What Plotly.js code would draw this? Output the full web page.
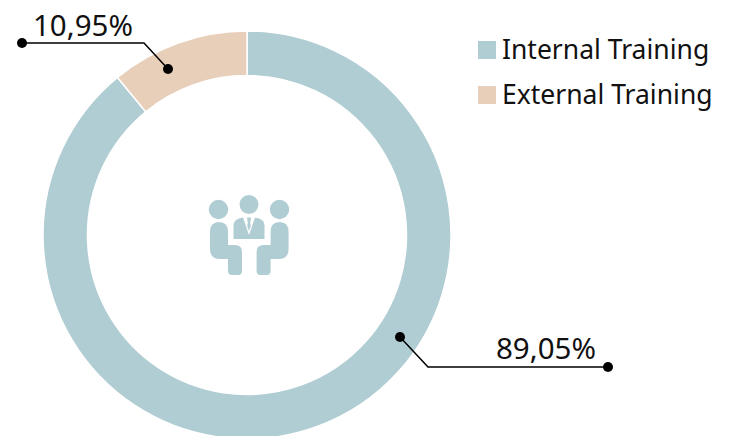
<!DOCTYPE html>
<html>
<head>
<meta charset="utf-8">
<script src="https://cdn.plot.ly/plotly-3.0.1.min.js"></script>
<style>html,body{margin:0;padding:0;background:#fff;overflow:hidden;width:734px;height:436px}</style>
</head>
<body>
<div id="chart" style="width:734px;height:440px"></div>
<script>
const categories = ["Internal Training", "External Training"];
const shares = [89.05, 10.95];
const shareLabels = ["89,05%", "10,95%"];
const sliceColors = ["#b0cdd3", "#e8cfba"];
const W = 734, H = 440;
const fx = x => x / W, fy = y => 1 - y / H;
const pathOf = pts => pts.map(p => {
  if (p.length === 4) return "Q" + fx(p[0]) + "," + fy(p[1]) + " " + fx(p[2]) + "," + fy(p[3]);
  return "L" + fx(p[0]) + "," + fy(p[1]);
}).join(" ").replace(/^L/, "M") + " Z";
const pathOpen = pts => pts.map((p, i) => (i ? "L" : "M") + fx(p[0]) + "," + fy(p[1])).join(" ");
const circle = (cx, cy, r, col) => ({type: "circle", xref: "paper", yref: "paper",
  x0: fx(cx - r), x1: fx(cx + r), y0: fy(cy + r), y1: fy(cy - r), fillcolor: col, line: {width: 0}, layer: "above"});
const solid = (pts, col) => ({type: "path", xref: "paper", yref: "paper", path: pathOf(pts), fillcolor: col, line: {width: 0}, layer: "above"});
const leader = pts => ({type: "path", xref: "paper", yref: "paper", path: pathOpen(pts), line: {color: "#000", width: 1.5}, layer: "above"});
const swatch = (y, col) => ({type: "rect", xref: "paper", yref: "paper", x0: fx(478), x1: fx(496), y0: fy(y + 9), y1: fy(y - 9), fillcolor: col, line: {width: 0}, layer: "above"});
const ic = sliceColors[0];
const person = s => {
  const m = x => s < 0 ? 498.6 - x : x;
  return solid([
    [m(210), 232], [m(210), 222, m(219), 222], [m(228), 222, m(228), 232],
    [m(228), 245], [m(235), 245], [m(242), 245, m(242), 252],
    [m(242), 271], [m(242), 275, m(238), 275], [m(232), 275], [m(228), 275, m(228), 271],
    [m(228), 259], [m(220), 259], [m(210), 259, m(210), 249]
  ], ic);
};
const shapes = [
  leader([[22, 43], [144, 43], [168, 69]]),
  leader([[400, 337], [428, 367], [608, 367]]),
  circle(22, 43, 5, "#000"), circle(168, 69, 5, "#000"),
  circle(400, 337, 5, "#000"), circle(608, 367, 5, "#000"),
  circle(218.5, 209.5, 9.7, ic), circle(249, 204.5, 9.5, ic), circle(279.5, 209.5, 9.7, ic),
  person(1), person(-1),
  solid([[233.5, 239], [233.5, 225], [233.5, 219, 243, 217.5], [249, 235], [255, 217.5], [264.5, 219, 264.5, 225], [264.5, 239]], ic),
  solid([[247, 217.5], [251, 217.5], [250.2, 223], [250.8, 226], [249, 231], [247.2, 226], [247.8, 223]], ic),
  swatch(50, sliceColors[0]), swatch(95, sliceColors[1])
];
const label = (t, x, y, size) => ({text: t, xref: "paper", yref: "paper", x: fx(x), y: fy(y), xanchor: "left", yanchor: "middle",
  showarrow: false, font: {family: "'Noto Sans', sans-serif", size: size, color: "#111"}});
Plotly.newPlot("chart", [{
  type: "pie", labels: categories, values: shares, hole: 159.5 / 204, sort: false, direction: "clockwise", rotation: 0,
  textinfo: "none", hoverinfo: "label+percent",
  marker: {colors: sliceColors, line: {color: "#fff", width: 1.5}},
  domain: {x: [fx(43), fx(451)], y: [fy(439), fy(31)]}
}], {
  width: W, height: H, margin: {l: 0, r: 0, t: 0, b: 0}, paper_bgcolor: "#fff",
  showlegend: false,
  shapes: shapes,
  annotations: [label(shareLabels[1], 31, 25, 29.5), label(shareLabels[0], 494, 347, 29.5),
    label(categories[0], 500, 49, 26.5), label(categories[1], 500, 94, 26.5)]
}, {displayModeBar: false, staticPlot: true});
</script>
</body>
</html>
